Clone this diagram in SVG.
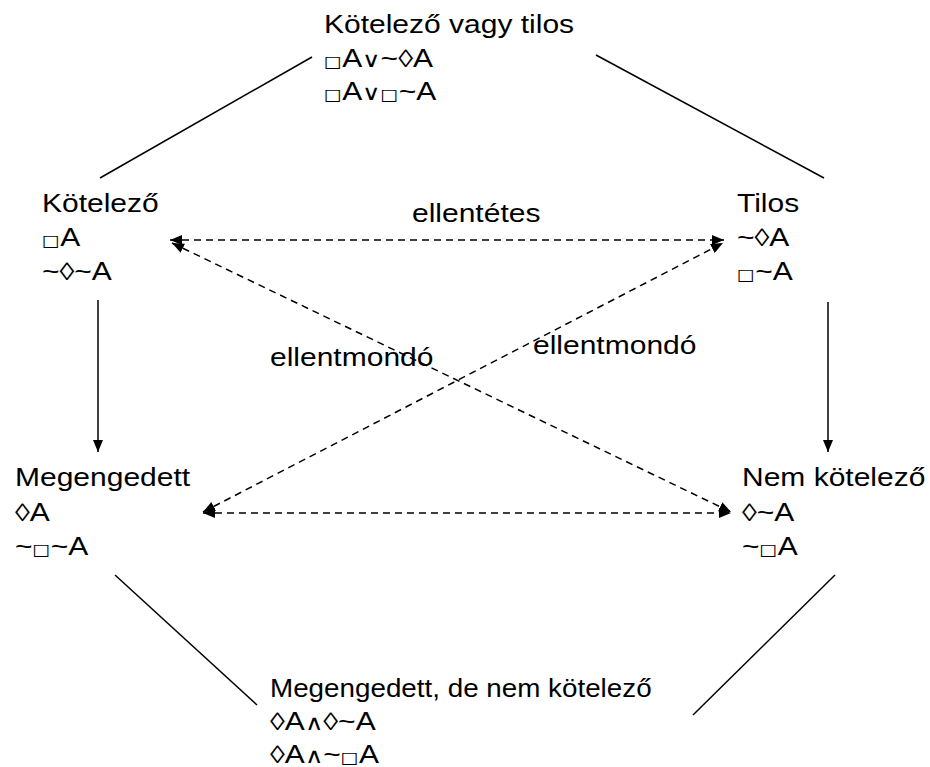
<svg xmlns="http://www.w3.org/2000/svg" width="930" height="767" viewBox="0 0 930 767">
  <style>
    text { font-family: "Liberation Sans", Arial, "DejaVu Sans", sans-serif; font-size: 25px; fill: #000; }
    .box { font-family: "DejaVu Sans", sans-serif; font-size: 16px; }
    .op { font-family: "DejaVu Sans", sans-serif; font-size: 21px; font-weight: 300; }
    .solid { stroke: #000; stroke-width: 1.5; fill: none; }
    .dash { stroke: #000; stroke-width: 1.5; fill: none; stroke-dasharray: 7 5; }
  </style>
  <defs>
    <marker id="head" viewBox="0 0 12 10" refX="12" refY="5" markerWidth="12" markerHeight="10" markerUnits="userSpaceOnUse" orient="auto-start-reverse">
      <path d="M0,0 L12,5 L0,10 z" fill="#000"/>
    </marker>
  </defs>

  <rect width="930" height="767" fill="#fff"/>

  <!-- connectors -->
  <g id="connectors">
    <line class="solid" x1="312" y1="57" x2="100" y2="178"/>
    <line class="solid" x1="596" y1="55" x2="824" y2="178"/>
    <line class="solid" x1="115" y1="575" x2="257" y2="705"/>
    <line class="solid" x1="835" y1="575" x2="693" y2="715"/>
    <line class="solid" x1="98" y1="300" x2="98" y2="452" marker-end="url(#head)"/>
    <line class="solid" x1="828" y1="302" x2="828" y2="452" marker-end="url(#head)"/>
    <line class="dash" x1="170" y1="240" x2="724" y2="240" marker-start="url(#head)" marker-end="url(#head)"/>
    <line class="dash" x1="203" y1="513" x2="731" y2="513" marker-start="url(#head)" marker-end="url(#head)"/>
    <line class="dash" x1="172" y1="243" x2="731" y2="512" marker-start="url(#head)" marker-end="url(#head)"/>
    <line class="dash" x1="203" y1="512" x2="723" y2="243" marker-start="url(#head)" marker-end="url(#head)"/>
    <text transform="translate(412,222) scale(1.2,1)">ellentétes</text>
    <text transform="translate(270,366) scale(1.2,1)">ellentmondó</text>
    <text transform="translate(533,354) scale(1.2,1)">ellentmondó</text>
  </g>

  <!-- nodes -->
  <g id="kotelezo-vagy-tilos" transform="translate(324,33) scale(1.2,1)">
    <text x="0" y="0">Kötelező vagy tilos</text>
    <text x="0" y="34"><tspan class="box">□</tspan>A<tspan class="op">∨</tspan>~◊A</text>
    <text x="0" y="67"><tspan class="box">□</tspan>A<tspan class="op">∨</tspan><tspan class="box">□</tspan>~A</text>
  </g>
  <g id="kotelezo" transform="translate(42,212) scale(1.2,1)">
    <text x="0" y="0">Kötelező</text>
    <text x="0" y="34"><tspan class="box">□</tspan>A</text>
    <text x="0" y="68">~◊~A</text>
  </g>
  <g id="tilos" transform="translate(737,212) scale(1.2,1)">
    <text x="0" y="0">Tilos</text>
    <text x="0" y="34">~◊A</text>
    <text x="0" y="68"><tspan class="box">□</tspan>~A</text>
  </g>
  <g id="megengedett" transform="translate(15,486) scale(1.2,1)">
    <text x="0" y="0">Megengedett</text>
    <text x="0" y="35">◊A</text>
    <text x="0" y="69">~<tspan class="box">□</tspan>~A</text>
  </g>
  <g id="nem-kotelezo" transform="translate(742,486) scale(1.2,1)">
    <text x="0" y="0">Nem kötelező</text>
    <text x="0" y="35">◊~A</text>
    <text x="0" y="69">~<tspan class="box">□</tspan>A</text>
  </g>
  <g id="megengedett-de-nem-kotelezo" transform="translate(270,697) scale(1.2,1)">
    <text x="0" y="0" textLength="318" lengthAdjust="spacingAndGlyphs">Megengedett, de nem kötelező</text>
    <text x="0" y="33">◊A<tspan class="op">∧</tspan>◊~A</text>
    <text x="0" y="66">◊A<tspan class="op">∧</tspan>~<tspan class="box">□</tspan>A</text>
  </g>
</svg>
